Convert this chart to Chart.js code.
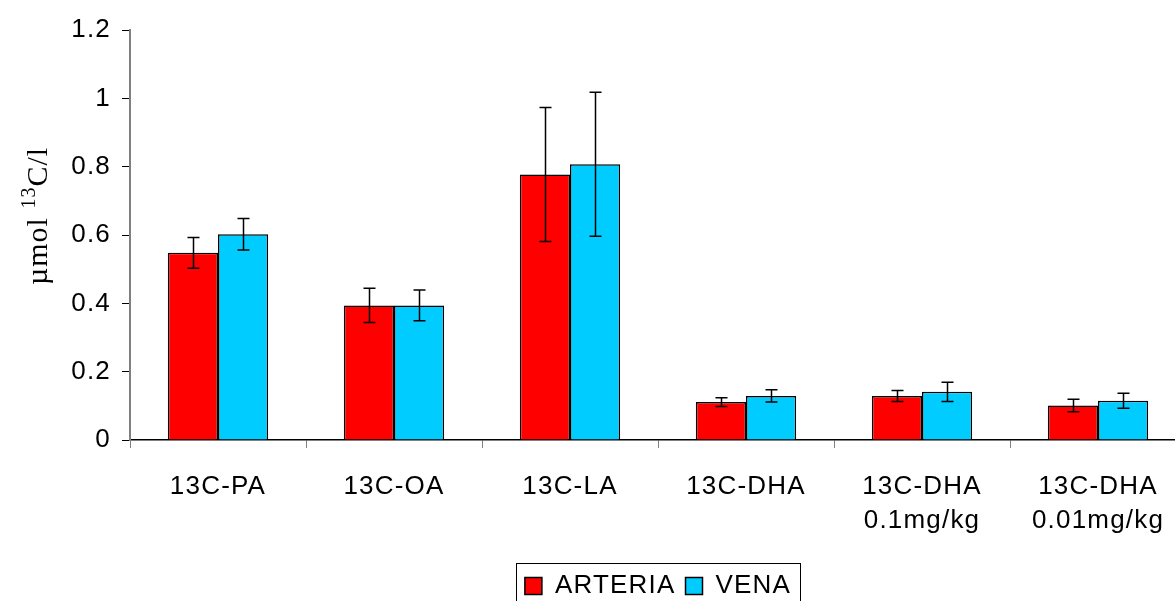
<!DOCTYPE html>
<html>
<head>
<meta charset="utf-8">
<script src="https://cdn.jsdelivr.net/npm/chart.js@4"></script>
<style>
  html, body { margin: 0; padding: 0; background: #fff; overflow: hidden; width: 1175px; height: 601px; }
  #wrap { position: absolute; left: 0; top: 0; width: 1316px; height: 601px; }
</style>
</head>
<body>
<div id="wrap"><canvas id="c" width="1316" height="601"></canvas></div>
<script>
const categories = [
  ["13C-PA"], ["13C-OA"], ["13C-LA"], ["13C-DHA"],
  ["13C-DHA", "0.1mg/kg"], ["13C-DHA", "0.01mg/kg"]
];
const seriesNames = ["ARTERIA", "VENA"];
const arteria = [0.548, 0.394, 0.777, 0.111, 0.129, 0.101];
const vena    = [0.602, 0.394, 0.807, 0.129, 0.141, 0.115];
const arteriaErr = [0.045, 0.050, 0.196, 0.013, 0.016, 0.018];
const venaErr    = [0.046, 0.045, 0.211, 0.018, 0.028, 0.022];
const yTicks = [0, 0.2, 0.4, 0.6, 0.8, 1, 1.2];

const FONT = "'Liberation Sans', Arial, sans-serif";
const FS = 26;

const spacingPlugin = {
  id: 'spacing',
  beforeLayout(chart) { chart.ctx.letterSpacing = '1.2px'; },
  beforeDraw(chart) { chart.ctx.letterSpacing = '1.2px'; }
};

const errorBars = {
  id: 'errorBars',
  afterDatasetsDraw(chart) {
    const ctx = chart.ctx;
    const ys = chart.scales.y;
    ctx.save();
    ctx.strokeStyle = '#000';
    ctx.lineWidth = 1.5;
    chart.data.datasets.forEach((ds, i) => {
      const meta = chart.getDatasetMeta(i);
      meta.data.forEach((bar, j) => {
        const v = ds.data[j], e = ds.errors[j];
        const x = Math.round(bar.x) + 0.5;
        const t = ys.getPixelForValue(v + e), b = ys.getPixelForValue(v - e);
        ctx.beginPath();
        ctx.moveTo(x, t); ctx.lineTo(x, b);
        ctx.moveTo(x - 6, t); ctx.lineTo(x + 6, t);
        ctx.moveTo(x - 6, b); ctx.lineTo(x + 6, b);
        ctx.stroke();
      });
    });
    ctx.restore();
  }
};

const yTitle = {
  id: 'yTitle',
  afterDraw(chart) {
    const ctx = chart.ctx;
    ctx.save();
    ctx.letterSpacing = '1px';
    ctx.fillStyle = '#000';
    ctx.translate(47, 216);
    ctx.rotate(-Math.PI / 2);
    const big = "30px 'Liberation Serif', 'Times New Roman', serif";
    const small = "20px 'Liberation Serif', 'Times New Roman', serif";
    const parts = [["µmol ", big, 0], ["13", small, -12], ["C/l", big, 0]];
    let total = 0;
    parts.forEach(p => { ctx.font = p[1]; total += ctx.measureText(p[0]).width; });
    let x = -total / 2;
    ctx.textBaseline = 'alphabetic';
    ctx.textAlign = 'left';
    parts.forEach(p => {
      ctx.font = p[1];
      ctx.fillText(p[0], x, p[2]);
      x += ctx.measureText(p[0]).width;
    });
    ctx.restore();
  }
};

const legendFrame = {
  id: 'legendFrame',
  afterDraw(chart) {
    const lg = chart.legend;
    if (!lg || !lg.legendHitBoxes || !lg.legendHitBoxes.length) return;
    const hb = lg.legendHitBoxes;
    const left = hb[0].left - 9;
    const right = hb[hb.length - 1].left + hb[hb.length - 1].width + 9;
    const ctx = chart.ctx;
    ctx.save();
    ctx.strokeStyle = '#000';
    ctx.lineWidth = 1;
    ctx.strokeRect(Math.round(left) + 0.5, 563.5, Math.round(right - left), 60);
    ctx.restore();
  }
};

new Chart(document.getElementById('c'), {
  type: 'bar',
  data: {
    labels: categories,
    datasets: [
      { label: seriesNames[0], data: arteria, errors: arteriaErr,
        backgroundColor: '#FF0000', borderColor: '#000', borderWidth: 1.5 },
      { label: seriesNames[1], data: vena, errors: venaErr,
        backgroundColor: '#00CCFF', borderColor: '#000', borderWidth: 1.5 }
    ]
  },
  options: {
    responsive: false,
    animation: false,
    devicePixelRatio: 1,
    layout: { padding: { top: 30, bottom: -8, left: 0, right: 0 } },
    datasets: { bar: { categoryPercentage: 0.57, barPercentage: 1.0 } },
    plugins: {
      tooltip: { enabled: false },
      legend: {
        position: 'bottom',
        labels: {
          color: '#000',
          font: { family: FONT, size: FS },
          boxWidth: 17, boxHeight: 17, padding: 10
        }
      }
    },
    scales: {
      x: {
        offset: true,
        grid: { display: true, offset: true, drawOnChartArea: false, drawTicks: true,
                tickLength: 8, color: '#808080' },
        border: { display: true, color: '#000', width: 1.5 },
        ticks: { color: '#000', font: { family: FONT, size: FS, lineHeight: 1.3 },
                 padding: 22, maxRotation: 0, autoSkip: false },
        afterFit(s) { s.height = 601 - 440 - 46 + 8; }
      },
      y: {
        min: 0, max: 1.2,
        afterBuildTicks(s) { s.ticks = yTicks.map(v => ({ value: v })); },
        grid: { display: true, drawOnChartArea: false, drawTicks: true, tickLength: 8, color: '#000' },
        border: { display: true, color: '#808080', width: 2 },
        ticks: { color: '#000', font: { family: FONT, size: FS }, padding: 11,
                 callback: v => String(Number(v.toFixed(1))) },
        afterFit(s) { s.width = 130; }
      },
      y2: {
        position: 'right', type: 'linear',
        grid: { display: false }, border: { display: false }, ticks: { display: false },
        afterFit(s) { s.width = 130; }
      }
    }
  },
  plugins: [spacingPlugin, errorBars, yTitle, legendFrame]
});
</script>
</body>
</html>
